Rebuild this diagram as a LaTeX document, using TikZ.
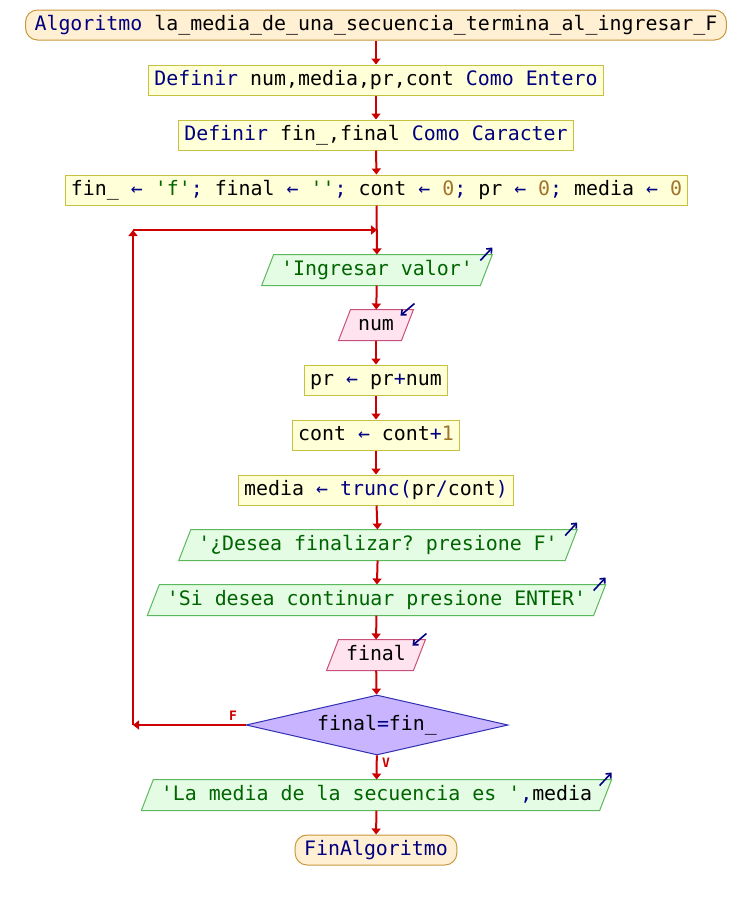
\documentclass[tikz,border=0pt]{standalone}
\usepackage{fontspec}
\setmonofont{DejaVu Sans Mono}
\usetikzlibrary{shapes.geometric,arrows.meta,calc,backgrounds}
\definecolor{kwc}{HTML}{000080}
\definecolor{stc}{HTML}{006400}
\definecolor{nmc}{HTML}{A0742C}
\definecolor{flowc}{HTML}{CC0000}
\definecolor{termfill}{HTML}{FFF0D4}
\definecolor{termdraw}{HTML}{C8983C}
\definecolor{procfill}{HTML}{FFFFD8}
\definecolor{procdraw}{HTML}{C8C040}
\definecolor{outfill}{HTML}{E4FCE4}
\definecolor{outdraw}{HTML}{5CB85C}
\definecolor{infill}{HTML}{FFE4F0}
\definecolor{indraw}{HTML}{C8507A}
\definecolor{decfill}{HTML}{C8B4FF}
\definecolor{decdraw}{HTML}{3030B0}
\newcommand{\kwd}[1]{\textcolor{kwc}{#1}}
\newcommand{\strg}[1]{\textcolor{stc}{#1}}
\newcommand{\numb}[1]{\textcolor{nmc}{#1}}
\newcommand{\opr}[1]{\textcolor{kwc}{#1}}
\tikzset{
  base/.style={font=\ttfamily\fontsize{19.9}{22}\selectfont, text height=14pt, text depth=4pt, minimum height=30pt, inner ysep=0pt, line width=1pt},
  term/.style={base, rounded corners=12pt, draw=termdraw, fill=termfill, inner xsep=9pt},
  proc/.style={base, rectangle, draw=procdraw, fill=procfill, inner xsep=5.5pt},
  iobox/.style={base, rectangle, inner xsep=13pt},
  outshape/.style={draw=outdraw, fill=outfill, line width=1pt},
  inshape/.style={draw=indraw, fill=infill, line width=1pt},
  dec/.style={base, diamond, aspect=4.4, inner sep=0pt, minimum width=262pt, minimum height=60pt, draw=decdraw, fill=decfill},
  flow/.style={draw=flowc, line width=2pt, -{Triangle[width=9pt,length=6pt]}},
  icon/.style={draw=kwc, line width=1.6pt, -{Straight Barb[width=7pt,length=4pt]}},
  lbl/.style={font=\ttfamily\bfseries\fontsize{13}{14}\selectfont, text=flowc, inner sep=0pt}
}
\begin{document}
\begin{tikzpicture}[x=1pt,y=-1pt]
\useasboundingbox (0,0) rectangle (752,900);
\node[term] (start) at (376,25) {\kwd{Algoritmo} la\_media\_de\_una\_secuencia\_termina\_al\_ingresar\_F};
\node[proc] (def1) at (376,80) {\kwd{Definir} num,media,pr,cont \kwd{Como} \kwd{Entero}};
\node[proc] (def2) at (376,135) {\kwd{Definir} fin\_,final \kwd{Como} \kwd{Caracter}};
\node[proc] (init) at (376.5,190) {fin\_ \opr{←} \strg{'f'}\opr{;} final \opr{←} \strg{''}\opr{;} cont \opr{←} \numb{0}\opr{;} pr \opr{←} \numb{0}\opr{;} media \opr{←} \numb{0}};
\node[iobox] (out1) at (377,270) {\strg{'Ingresar valor'}};
\node[iobox] (in1) at (376,325) {num};
\node[proc] (p1) at (376,380) {pr \opr{←} pr\opr{+}num};
\node[proc] (p2) at (376,435) {cont \opr{←} cont\opr{+}\numb{1}};
\node[proc] (p3) at (376,490) {media \opr{←} \kwd{trunc(}pr\opr{/}cont\kwd{)}};
\node[iobox] (out2) at (378,545) {\strg{'¿Desea finalizar? presione F'}};
\node[iobox] (out3) at (376.5,600) {\strg{'Si desea continuar presione ENTER'}};
\node[iobox] (in2) at (376,655) {final};
\node[dec] (dec) at (377,725) {final\opr{=}fin\_};
\node[iobox] (out4) at (376.5,795) {\strg{'La media de la secuencia es '}\opr{,}media};
\node[term] (fin) at (376,850) {\kwd{FinAlgoritmo}};
% parallelogram shapes
\begin{scope}[on background layer]
\fill[white] (0,0) rectangle (752,900);
\foreach \n/\s in {out1/outshape,out2/outshape,out3/outshape,out4/outshape,in1/inshape,in2/inshape}{
  \draw[\s] ($(\n.south west)+(-6,0)$) -- ($(\n.south east)+(-6,0)$) -- ($(\n.north east)+(6,0)$) -- ($(\n.north west)+(6,0)$) -- cycle;
}
\end{scope}
% flow
\draw[flow] (start) -- (def1);
\draw[flow] (def1) -- (def2);
\draw[flow] (def2) -- (init);
\draw[flow] (init) -- (out1);
\draw[flow] (out1) -- (in1);
\draw[flow] (in1) -- (p1);
\draw[flow] (p1) -- (p2);
\draw[flow] (p2) -- (p3);
\draw[flow] (p3) -- (out2);
\draw[flow] (out2) -- (out3);
\draw[flow] (out3) -- (in2);
\draw[flow] (in2) -- (dec);
\draw[flow] (dec) -- (out4);
\draw[flow] (out4) -- (fin);
% loop
\coordinate (lp1) at (133,725);
\coordinate (lp2) at (133,230);
\coordinate (lp3) at (377,230);
\draw[flow] (dec.west) -- (lp1);
\draw[flow] (lp1) -- (lp2);
\draw[flow] (lp2) -- (lp3);
\node[lbl] (lf) at (233,716) {F};
\node[lbl] (lv) at (386,763) {V};
% io icons
\foreach \n in {out1,out2,out3,out4}{
  \draw[icon] ($(\n.north east)+(-6,6)$) -- ($(\n.north east)+(6,-7)$);
}
\foreach \n in {in1,in2}{
  \draw[icon] ($(\n.north east)+(7,-6)$) -- ($(\n.north east)+(-7,6)$);
}
\end{tikzpicture}
\end{document}
